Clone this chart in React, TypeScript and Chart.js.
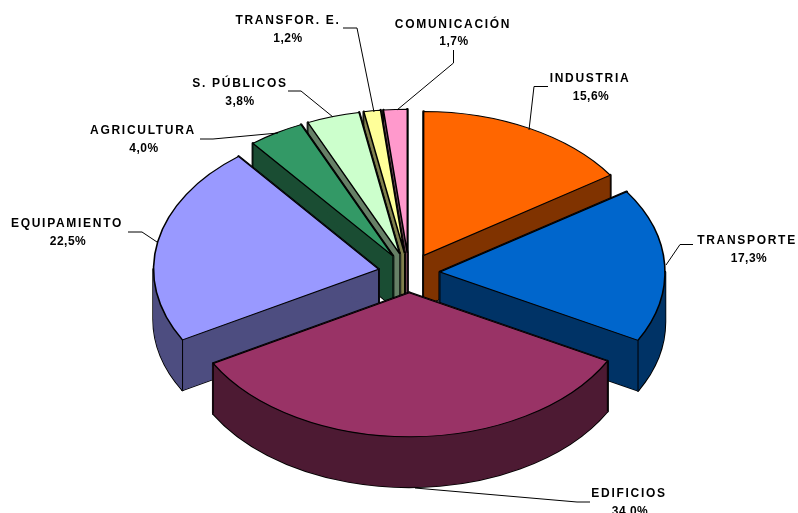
import React, { useEffect, useRef } from "react";
import { Chart, registerables } from "chart.js";

Chart.register(...registerables);

const categories = ["INDUSTRIA", "TRANSPORTE", "EDIFICIOS", "EQUIPAMIENTO", "AGRICULTURA", "S. PÚBLICOS", "TRANSFOR. E.", "COMUNICACIÓN"];
const shares = [15.6, 17.3, 34.0, 22.5, 4.0, 3.8, 1.2, 1.7];
const topColors = ["#FF6600", "#0066CC", "#993366", "#9999FF", "#339966", "#CCFFCC", "#FFFF99", "#FF99CC"];
const sideColors = ["#803300", "#003366", "#4D1A33", "#4D4D80", "#1A4D33", "#668066", "#80804D", "#804D66"];

// Annotation layout, in category order: label centre x, name baseline, value centre x, value baseline
const labelAnchors = [
  [590, 82, 591, 100],
  [747, 244, 749, 262],
  [629, 497, 630, 515],
  [67, 227, 68, 245],
  [143, 134, 144, 152],
  [240, 87, 240, 105],
  [288, 24, 288, 42],
  [453, 28, 454, 45],
];
const leaderLines = [
  [[548, 86.5], [534, 86.5], [529, 130]],
  [[693, 244.5], [680, 244.5], [666, 265]],
  [[590, 502], [577, 502], [415, 488]],
  [[128, 232], [142, 232], [157, 242]],
  [[200, 139], [213, 139], [278, 133]],
  [[288, 91], [301, 91], [333, 117]],
  [[343, 28], [357, 28], [374, 112]],
  [[453.5, 50], [453.5, 63], [397, 110]],
];

const SQUASH = 0.64;
const DEPTH = 50;
const EXPLODE = 31;
const RADIUS = 225;

const pie3d = {
  id: "pie3d",
  beforeDatasetDraw(chart: any, args: any) {
    const ctx = chart.ctx;
    const arcs = args.meta.data;
    const cx = arcs[0].x;
    const cy = arcs[0].y;
    const mid = (a: any) => (a.startAngle + a.endAngle) / 2;

    const drawTop = (a: any) => {
      const m = mid(a);
      ctx.save();
      ctx.translate(cx, cy);
      ctx.scale(1, SQUASH);
      ctx.translate(-cx, -cy);
      ctx.translate(Math.cos(m) * EXPLODE, Math.sin(m) * EXPLODE);
      a.draw(ctx);
      ctx.restore();
    };

    const order = arcs
      .map((a: any, i: number) => ({ a, i }))
      .sort((p: any, q: any) => Math.sin(mid(p.a)) - Math.sin(mid(q.a)));

    for (const { a, i } of order) {
      const m = mid(a);
      const r = a.outerRadius;
      const ox = cx + Math.cos(m) * EXPLODE;
      const oy = cy + Math.sin(m) * EXPLODE * SQUASH;
      const corners = [
        [ox + Math.cos(a.startAngle) * r, oy + Math.sin(a.startAngle) * r * SQUASH],
        [ox + Math.cos(a.endAngle) * r, oy + Math.sin(a.endAngle) * r * SQUASH],
      ];
      // only the front-facing stretch of the rim can be seen
      const s = Math.max(a.startAngle, 0);
      const e = Math.min(a.endAngle, Math.PI);
      const pieces: Array<() => void> = corners.map(([x, y]) => () => {
        ctx.beginPath();
        ctx.moveTo(ox, oy);
        ctx.lineTo(x, y);
        ctx.lineTo(x, y + DEPTH);
        ctx.lineTo(ox, oy + DEPTH);
        ctx.closePath();
      });
      if (s < e) {
        pieces.push(() => {
          ctx.beginPath();
          ctx.ellipse(ox, oy, r, r * SQUASH, 0, s, e);
          ctx.ellipse(ox, oy + DEPTH, r, r * SQUASH, 0, e, s, true);
          ctx.closePath();
        });
      }
      ctx.save();
      ctx.lineJoin = "round";
      ctx.strokeStyle = "#000";
      ctx.lineWidth = 2.6;
      for (const p of pieces) {
        p();
        ctx.stroke();
      }
      ctx.fillStyle = sideColors[i];
      ctx.strokeStyle = sideColors[i];
      ctx.lineWidth = 1;
      for (const p of pieces) {
        p();
        ctx.fill();
        ctx.stroke();
      }
      ctx.strokeStyle = "#000";
      ctx.lineWidth = 1;
      for (const [x, y] of [[ox, oy], ...corners]) {
        ctx.beginPath();
        ctx.moveTo(x, y);
        ctx.lineTo(x, y + DEPTH);
        ctx.stroke();
      }
      ctx.restore();
    }

    for (const { a } of order) {
      drawTop(a);
    }
    return false;
  },
  afterDraw(chart: any) {
    const ctx = chart.ctx;
    ctx.save();
    ctx.strokeStyle = "#000";
    ctx.lineWidth = 1;
    for (const line of leaderLines) {
      ctx.beginPath();
      line.forEach(([x, y], k) => (k ? ctx.lineTo(x, y) : ctx.moveTo(x, y)));
      ctx.stroke();
    }
    ctx.fillStyle = "#000";
    ctx.textAlign = "center";
    ctx.textBaseline = "alphabetic";
    categories.forEach((name, i) => {
      const [nx, ny, vx, vy] = labelAnchors[i];
      ctx.font = "bold 12px 'Liberation Sans'";
      ctx.letterSpacing = "1.7px";
      ctx.fillText(name, nx, ny);
      ctx.letterSpacing = "0.5px";
      ctx.fillText(shares[i].toFixed(1).replace(".", ",") + "%", vx, vy);
    });
    ctx.restore();
  },
};

export default function App() {
  const ref = useRef<HTMLCanvasElement>(null);
  useEffect(() => {
    document.body.style.margin = "0";
    const chart = new Chart(ref.current!, {
      type: "pie",
      data: {
        labels: categories,
        datasets: [
          {
            data: shares,
            backgroundColor: topColors,
            borderColor: "#000",
            borderWidth: 1.6,
            radius: RADIUS,
            clip: false,
          } as any,
        ],
      },
      options: {
        animation: false,
        responsive: false,
        devicePixelRatio: 1,
        layout: { padding: { left: 20, top: 33 } },
        plugins: { legend: { display: false }, tooltip: { enabled: false } },
      },
      plugins: [pie3d],
    } as any);
    return () => chart.destroy();
  }, []);
  return (
    <div style={{ width: 798, height: 513, overflow: "hidden", background: "#fff" }}>
      <canvas ref={ref} width={798} height={513} style={{ display: "block" }} />
    </div>
  );
}
